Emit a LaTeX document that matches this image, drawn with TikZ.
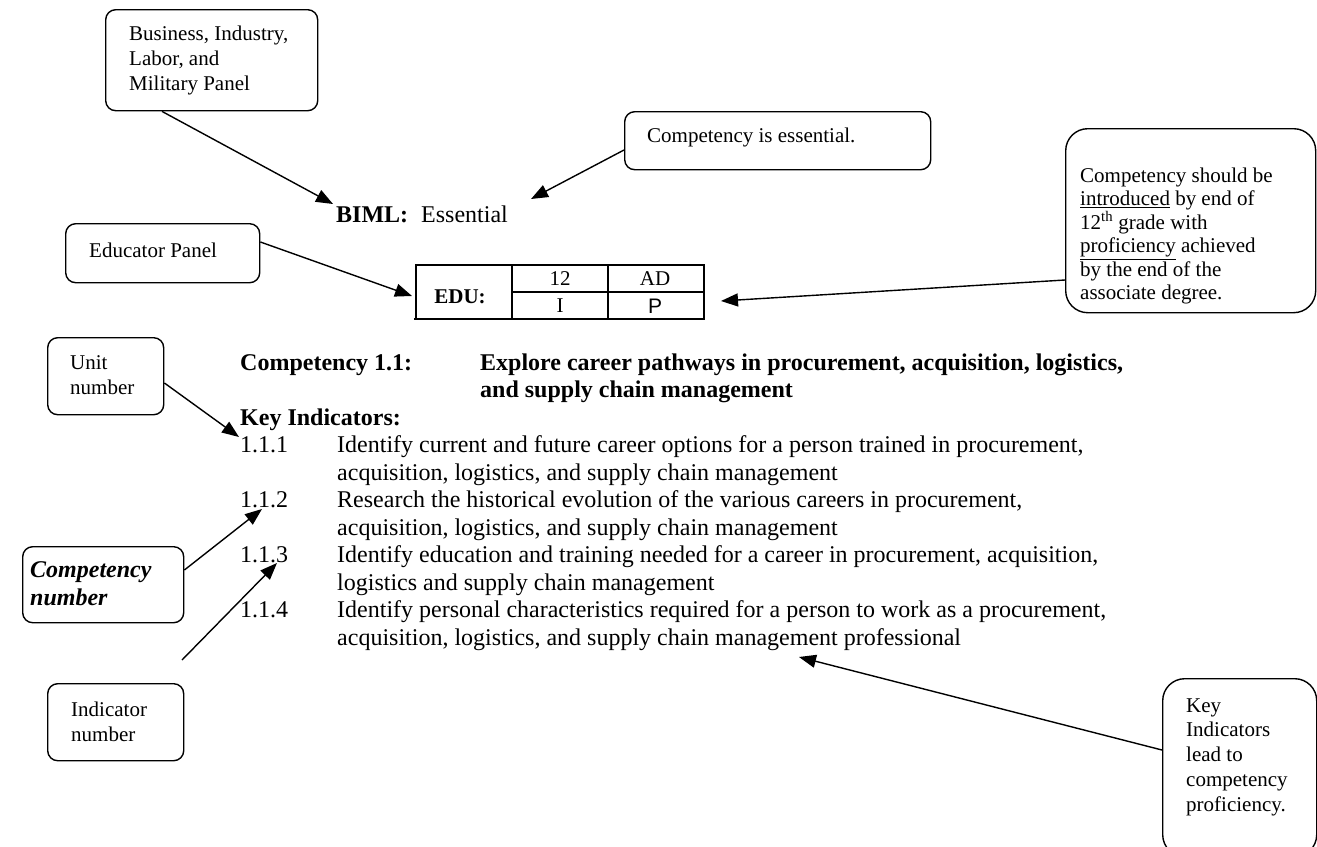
\documentclass[tikz,border=0pt]{standalone}
\usepackage{fontspec}
\setmainfont{Liberation Serif}
\newfontfamily\arialf{Liberation Sans}
\usetikzlibrary{arrows.meta,calc}
\begin{document}
\begin{tikzpicture}[x=1pt,y=-1pt,
  panelbox/.style={draw, line width=1.4pt, rounded corners=10pt, inner sep=0pt, anchor=north west},
  bigbox/.style={panelbox, rounded corners=22pt},
  boxtext/.style={inner sep=0pt, anchor=west, align=left, font=\fontsize{21}{25}\selectfont},
  bodytext/.style={inner sep=0pt, anchor=base west, font=\fontsize{24}{27.5}\selectfont},
  boldtext/.style={bodytext, font=\fontsize{24}{27.5}\selectfont\bfseries},
  arr/.style={line width=1.4pt, -{Triangle[length=17pt,width=13pt]}},
  cell/.style={inner sep=0pt, font=\fontsize{21}{25}\selectfont},
  tline/.style={line width=1.8pt}
]
\useasboundingbox (0,0) rectangle (1317,846);

% ---- callout boxes ----
\node[panelbox, minimum width=212pt, minimum height=101pt] (bimlbox) at (105,9) {};
\node[boxtext] (bimlboxt) at (129,60) {Business, Industry,\\Labor, and\\Military Panel};

\node[panelbox, minimum width=306pt, minimum height=58pt] (essbox) at (624,111) {};
\node[boxtext] (esstext) at (647,137) {Competency is essential.};

\node[bigbox, minimum width=250pt, minimum height=184pt] (shouldbox) at (1065,128) {};
\node[boxtext, font=\fontsize{21}{23.5}\selectfont] (shouldtext) at (1080,236)
  {Competency should be\\\underline{introduced} by end of\\12\textsuperscript{th} grade with\\\underline{proficiency} achieved\\by the end of the\\associate degree.};

\node[panelbox, minimum width=194pt, minimum height=59pt] (edubox) at (65,223) {};
\node[boxtext] (edutext) at (89,250) {Educator Panel};

\node[panelbox, minimum width=116pt, minimum height=77pt] (unitbox) at (47,337) {};
\node[boxtext] (unittext) at (70,375) {Unit\\number};

\node[panelbox, minimum width=161pt, minimum height=76pt] (compbox) at (22,546) {};
\node[boxtext, font=\fontsize{24}{28}\selectfont\bfseries\itshape] (comptext) at (30,584) {Competency\\number};

\node[panelbox, minimum width=136pt, minimum height=77pt] (indbox) at (47,683) {};
\node[boxtext] (indtext) at (71,722) {Indicator\\number};

\node[bigbox, minimum width=154pt, minimum height=178pt] (keybox) at (1162,678) {};
\node[boxtext, font=\fontsize{21}{24.75}\selectfont] (keytext) at (1186,757)
  {Key\\Indicators\\lead to\\competency\\proficiency.};

% ---- BIML line ----
\node[bodytext] (biml) at (336,222) {\textbf{BIML:}\hspace{13pt}Essential};

% ---- EDU table ----
\node[draw, tline, inner sep=0pt, anchor=north west, minimum width=288pt, minimum height=54pt] (edutab) at (415,264) {};
\draw[tline] (512,264) -- (512,320);
\draw[tline] (608,264) -- (608,320);
\draw[tline] (415,318) -- (415,320);
\draw[tline] (703,318) -- (703,320);
\draw[tline] (512,292) -- (703,292);
\node[cell, font=\fontsize{21}{25}\selectfont\bfseries] (educell) at (460,297) {EDU:};
\node[cell] (c12) at (560,279) {12};
\node[cell] (cad) at (655,279) {AD};
\node[cell] (ci) at (560,306) {I};
\node[cell, font=\fontsize{21}{25}\selectfont\arialf] (cp) at (655,306) {P};

% ---- competency block ----
\node[boldtext] (comp) at (240,370) {Competency 1.1:};
\node[boldtext] (explore) at (480,370) {Explore career pathways in procurement, acquisition, logistics,};
\node[boldtext] (explore2) at (480,397.5) {and supply chain management};
\node[boldtext] (keyind) at (240,425) {Key Indicators:};

\node[bodytext] (n1) at (240,452.5) {1.1.1};
\node[bodytext] (k1a) at (337,452.5) {Identify current and future career options for a person trained in procurement,};
\node[bodytext] (k1b) at (337,480) {acquisition, logistics, and supply chain management};
\node[bodytext] (n2) at (240,507.5) {1.1.2};
\node[bodytext] (k2a) at (337,507.5) {Research the historical evolution of the various careers in procurement,};
\node[bodytext] (k2b) at (337,535) {acquisition, logistics, and supply chain management};
\node[bodytext] (n3) at (240,562.5) {1.1.3};
\node[bodytext] (k3a) at (337,562.5) {Identify education and training needed for a career in procurement, acquisition,};
\node[bodytext] (k3b) at (337,590) {logistics and supply chain management};
\node[bodytext] (n4) at (240,617.5) {1.1.4};
\node[bodytext] (k4a) at (337,617.5) {Identify personal characteristics required for a person to work as a procurement,};
\node[bodytext] (k4b) at (337,645) {acquisition, logistics, and supply chain management professional};

% ---- arrow ends ----
\coordinate (tbiml) at (333,204);
\coordinate (tess) at (531,199);
\coordinate (tedu) at (412,296);
\coordinate (tshould) at (721,301);
\coordinate (tunit) at (239,437);
\coordinate (tcomp) at (262,509);
\coordinate (tind) at (277,563);
\coordinate (indtail) at (182,660);
\coordinate (tkey) at (799,657);

\draw[arr] ([xshift=57pt]bimlbox.south west) -- (tbiml);
\draw[arr] ([yshift=-39pt]essbox.north west) -- (tess);
\draw[arr] ([yshift=-19pt]edubox.north east) -- (tedu);
\draw[arr] ([yshift=-152pt]shouldbox.north west) -- (tshould);
\draw[arr] ([yshift=-46pt]unitbox.north east) -- (tunit);
\draw[arr] ([yshift=-24pt]compbox.north east) -- (tcomp);
\draw[arr] (indtail) -- (tind);
\draw[arr] ([yshift=-72pt]keybox.north west) -- (tkey);
\end{tikzpicture}
\end{document}
